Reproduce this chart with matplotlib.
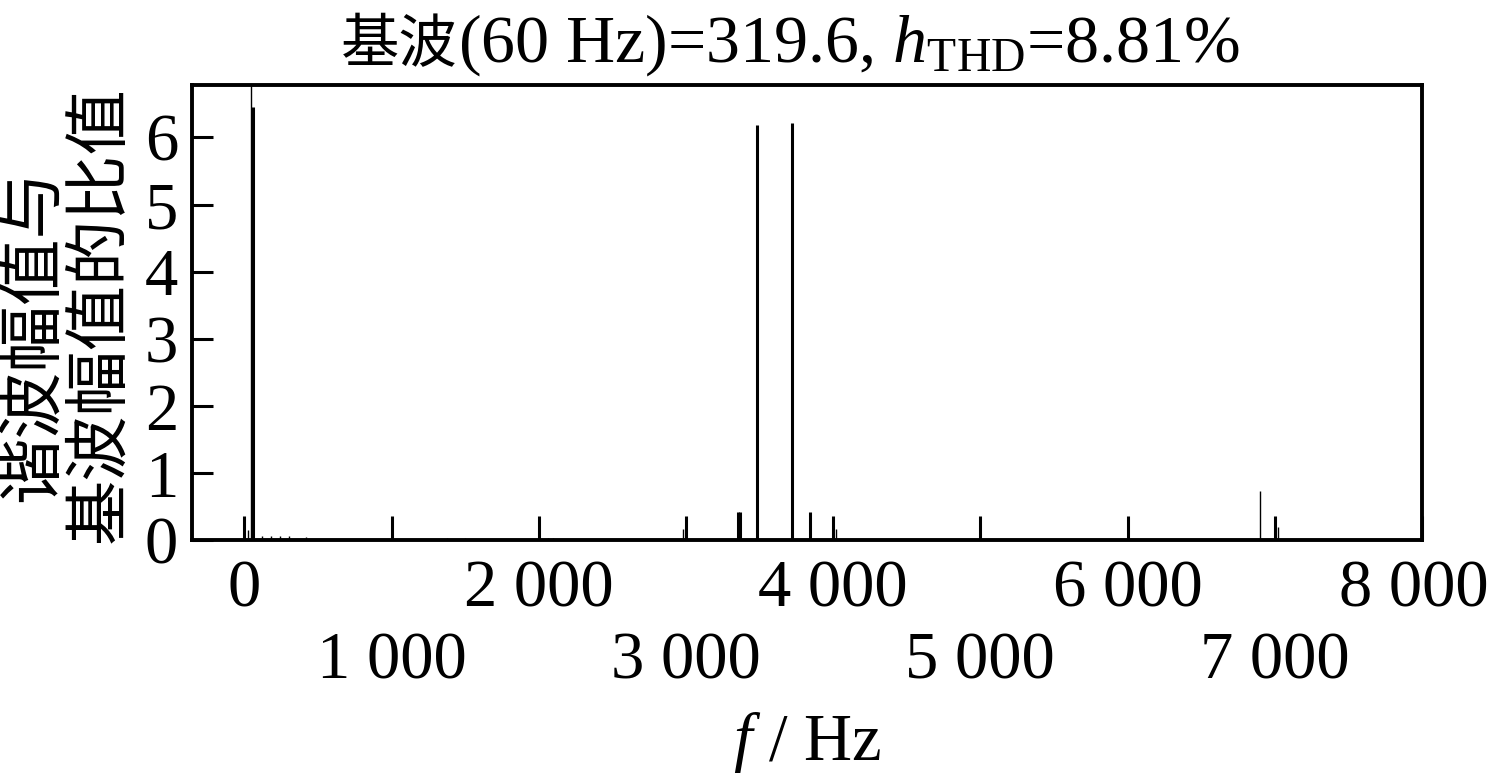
import matplotlib.pyplot as plt
import matplotlib.transforms as mtransforms
import numpy as np

plt.rcParams['font.family'] = ['Liberation Serif', 'Noto Sans CJK SC']
plt.rcParams['mathtext.fontset'] = 'custom'
plt.rcParams['mathtext.rm'] = 'Liberation Serif'
plt.rcParams['mathtext.it'] = 'Liberation Serif:italic'

# harmonic spectrum, ratio of harmonic amplitude to fundamental (%)
freq_main = [60, 3355, 3370, 3480, 3720, 3840]
amp_main = [6.45, 0.42, 0.42, 6.19, 6.22, 0.42]
freq_minor = [25, 45, 120, 180, 240, 300, 420, 1380, 1500, 2060, 2100,
              2980, 4020, 6900, 7020]
amp_minor = [0.15, 100.0, 0.07, 0.07, 0.06, 0.06, 0.05, 0.03, 0.03, 0.04,
             0.03, 0.17, 0.17, 0.73, 0.2]

major_ticks = [0, 2000, 4000, 6000, 8000]
minor_ticks = [1000, 3000, 5000, 7000]
major_labels = ['0', '2 000', '4 000', '6 000', '8 000']
minor_labels = ['1 000', '3 000', '5 000', '7 000']
y_ticks = [0, 1, 2, 3, 4, 5, 6]

fig = plt.figure(figsize=(14.89, 7.73), dpi=100)
ax = fig.add_axes([0.129, 0.301, 0.826, 0.589])

ax.vlines(freq_main, 0, amp_main, colors='k', linewidth=2.2)
ax.vlines(freq_minor, 0, amp_minor, colors='k', linewidth=1.0)

ax.set_xlim(-355, 8000)
ax.set_ylim(0, 6.78)

ax.set_xticks(major_ticks)
ax.set_xticklabels(major_labels)
ax.set_xticks(minor_ticks, minor=True)
ax.set_xticklabels(minor_labels, minor=True)
ax.set_yticks(y_ticks)

ax.tick_params(axis='x', which='both', direction='in', length=17, width=2.2,
               labelsize=48, top=False)
ax.tick_params(axis='x', which='major', pad=14)
ax.tick_params(axis='x', which='minor', pad=66)
ax.tick_params(axis='y', direction='in', length=15, width=2.2,
               labelsize=48, right=False, pad=10)

# last label sits at the figure edge, nudge it left a little
last = ax.get_xticklabels()[-1]
last.set_transform(last.get_transform() +
                   mtransforms.ScaledTranslation(-8 / 100, 0, fig.dpi_scale_trans))

for s in ax.spines.values():
    s.set_linewidth(2.8)

# title: CJK part as plain text, rest with mathtext
fig.text(0.3076, 0.92, '基波', fontsize=42, ha='right', va='baseline')
fig.text(0.3076, 0.92, '(60 Hz)=319.6, $h_{\\rm THD}$=8.81%', fontsize=49,
         ha='left', va='baseline')

ax.set_xlabel('$f$ / Hz', fontsize=48, labelpad=12)

fig.text(35 / 1489, 1 - 335 / 773, '谐波幅值与', fontsize=48, rotation=90,
         ha='center', va='center')
fig.text(102 / 1489, 1 - 315 / 773, '基波幅值的比值', fontsize=47, rotation=90,
         ha='center', va='center')

fig.savefig('out.png', dpi=100)
